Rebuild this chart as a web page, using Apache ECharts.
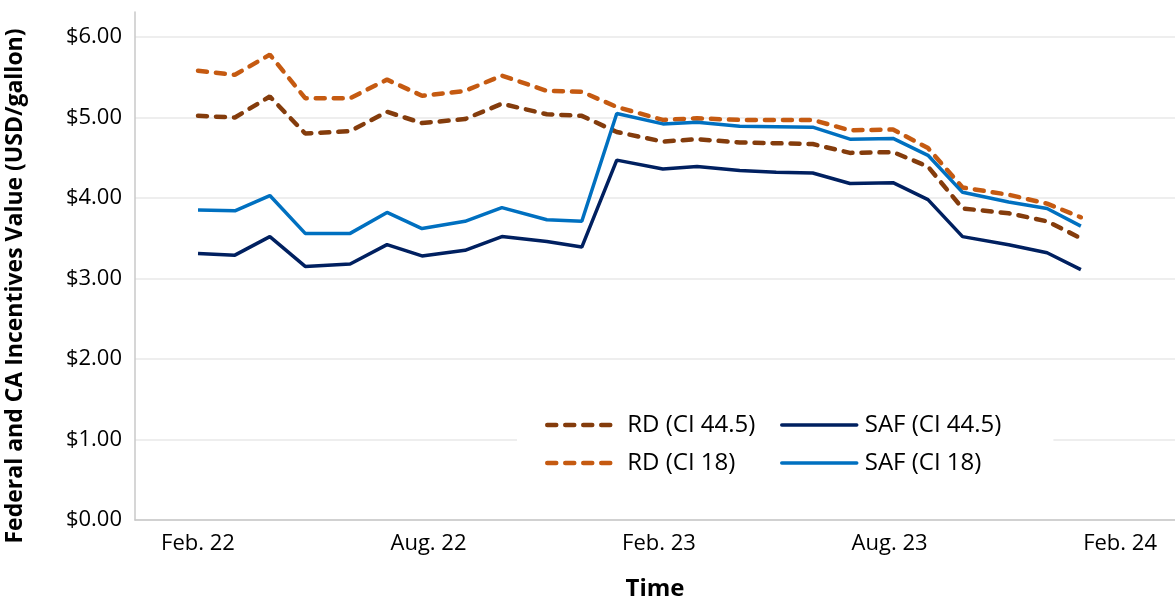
<!DOCTYPE html>
<html>
<head>
<meta charset="utf-8">
<script src="https://cdn.jsdelivr.net/npm/echarts@6/dist/echarts.min.js"></script>
<style>
  html, body { margin: 0; padding: 0; background: #fff; }
  #chart { width: 1175px; height: 600px; }
</style>
</head>
<body>
<div id="chart"></div>
<script>
// months from Feb 2022 (0) to Jan 2024 (23), position
var monthPos = [0, 0.96, 1.87, 2.79, 3.96, 4.92, 5.83, 6.95, 7.91, 9.08, 9.99, 10.9,
                12.1, 12.99, 14.1, 15.05, 16.0, 16.97, 18.09, 19.0, 19.9, 21.1, 22.1, 22.98];

var rd445 = [5.02, 5.00, 5.26, 4.80, 4.83, 5.07, 4.93, 4.98, 5.17, 5.04, 5.02, 4.82,
             4.70, 4.73, 4.69, 4.68, 4.67, 4.56, 4.57, 4.39, 3.87, 3.81, 3.71, 3.50];
var rd18 = [5.58, 5.53, 5.78, 5.24, 5.24, 5.47, 5.27, 5.33, 5.52, 5.33, 5.32, 5.13,
            4.97, 4.99, 4.97, 4.97, 4.97, 4.84, 4.85, 4.62, 4.13, 4.04, 3.93, 3.76];
var saf445 = [3.31, 3.29, 3.52, 3.15, 3.18, 3.42, 3.28, 3.35, 3.52, 3.46, 3.39, 4.47,
              4.36, 4.39, 4.34, 4.32, 4.31, 4.18, 4.19, 3.98, 3.52, 3.42, 3.32, 3.11];
var saf18 = [3.85, 3.84, 4.03, 3.56, 3.56, 3.82, 3.62, 3.71, 3.88, 3.73, 3.71, 5.05,
             4.92, 4.94, 4.89, 4.885, 4.88, 4.73, 4.74, 4.53, 4.07, 3.95, 3.87, 3.65];

var tickPos = [0, 6, 12, 18, 24];
var tickNames = ['Feb. 22', 'Aug. 22', 'Feb. 23', 'Aug. 23', 'Feb. 24'];

var font = 'Open Sans';
var dash = [9, 9];

function pairs(vals) {
  return vals.map(function (v, i) { return [monthPos[i], v]; });
}

var chart = echarts.init(document.getElementById('chart'));

var option = {
  backgroundColor: '#fff',
  animation: false,
  grid: { left: 135, right: 0, top: 12, bottom: 80, outerBoundsMode: 'none' },
  xAxis: {
    type: 'value',
    min: -1.64,
    max: 25.43,
    name: 'Time',
    nameLocation: 'middle',
    nameGap: 57,
    nameTextStyle: { fontFamily: font, fontWeight: 'bold', fontSize: 24, color: '#000' },
    axisLine: { show: true, lineStyle: { color: '#c8c8c8', width: 1.5 } },
    axisTick: { show: false },
    splitLine: { show: false },
    axisLabel: {
      customValues: tickPos,
      margin: 13,
      fontFamily: font,
      fontSize: 22,
      color: '#000',
      formatter: function (v) {
        var k = tickPos.indexOf(v);
        return k >= 0 ? tickNames[k] : '';
      }
    }
  },
  yAxis: {
    type: 'value',
    min: 0,
    max: 6.31,
    interval: 1,
    name: 'Federal and CA Incentives Value (USD/gallon)',
    nameLocation: 'middle',
    nameGap: 108,
    nameTextStyle: { fontFamily: font, fontWeight: 'bold', fontSize: 23, color: '#000', padding: [0, 40, 0, 0] },
    axisLine: { show: true, onZero: false, lineStyle: { color: '#c8c8c8', width: 1.5 } },
    axisTick: { show: false },
    splitLine: {
      show: true,
      lineStyle: {
        color: ['#e8e8e8', '#e8e8e8', '#e8e8e8', '#e8e8e8', '#e8e8e8', '#e8e8e8', '#e8e8e8', 'rgba(0,0,0,0)'],
        width: 1.5
      }
    },
    axisLabel: {
      showMaxLabel: false,
      margin: 13,
      fontFamily: font,
      fontSize: 22,
      color: '#000',
      formatter: function (v) { return '$' + v.toFixed(2); }
    }
  },
  legend: [
    {
      data: ['RD (CI 44.5)', 'RD (CI 18)'],
      orient: 'vertical',
      left: 517,
      top: 405,
      itemWidth: 70,
      itemHeight: 14,
      itemGap: 14,
      padding: [8, 10, 8, 28],
      backgroundColor: '#fff',
      itemStyle: { opacity: 0 },
      lineStyle: { width: 4.5, type: dash, cap: 'round' },
      textStyle: { fontFamily: font, fontSize: 24, color: '#000', padding: [0, 0, 0, 5] }
    },
    {
      data: ['SAF (CI 44.5)', 'SAF (CI 18)'],
      orient: 'vertical',
      left: 765,
      top: 405,
      itemWidth: 75,
      itemHeight: 14,
      itemGap: 14,
      padding: [8, 52, 8, 15],
      backgroundColor: '#fff',
      itemStyle: { opacity: 0 },
      lineStyle: { width: 3.5, cap: 'round' },
      textStyle: { fontFamily: font, fontSize: 24, color: '#000', padding: [0, 0, 0, 3] }
    }
  ],
  series: [
    {
      name: 'RD (CI 44.5)', type: 'line', symbol: 'none', data: pairs(rd445),
      color: '#843C0C',
      lineStyle: { color: '#843C0C', width: 4.5, type: dash, cap: 'round' }
    },
    {
      name: 'RD (CI 18)', type: 'line', symbol: 'none', data: pairs(rd18),
      color: '#C55A11',
      lineStyle: { color: '#C55A11', width: 4.5, type: dash, cap: 'round' }
    },
    {
      name: 'SAF (CI 44.5)', type: 'line', symbol: 'none', data: pairs(saf445),
      color: '#002060',
      lineStyle: { color: '#002060', width: 3.5 }
    },
    {
      name: 'SAF (CI 18)', type: 'line', symbol: 'none', data: pairs(saf18),
      color: '#0070C0',
      lineStyle: { color: '#0070C0', width: 3.5 }
    }
  ]
};

chart.setOption(option);
</script>
</body>
</html>
